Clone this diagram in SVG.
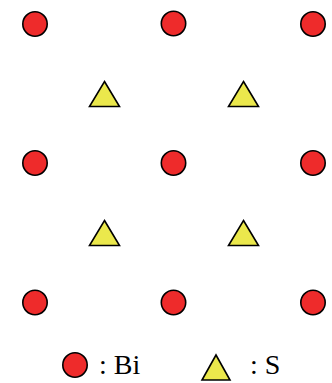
<svg xmlns="http://www.w3.org/2000/svg" width="332" height="383" viewBox="0 0 332 383">
<style>
.bi{fill:#ee2b2b;stroke:#000;stroke-width:1.6}
.s{fill:#ebe84c;stroke:#000;stroke-width:1.6;stroke-linejoin:miter}
</style>
<rect width="332" height="383" fill="#fff"/>
<g id="nodes">
<g id="bi1"><circle class="bi" cx="35" cy="24" r="12.2"/></g>
<g id="bi2"><circle class="bi" cx="173.5" cy="23.5" r="12.2"/></g>
<g id="bi3"><circle class="bi" cx="313" cy="24" r="12.2"/></g>
<g id="bi4"><circle class="bi" cx="35" cy="163" r="12.2"/></g>
<g id="bi5"><circle class="bi" cx="173.5" cy="163" r="12.2"/></g>
<g id="bi6"><circle class="bi" cx="313" cy="163" r="12.2"/></g>
<g id="bi7"><circle class="bi" cx="35" cy="302.5" r="12.2"/></g>
<g id="bi8"><circle class="bi" cx="173.5" cy="302.5" r="12.2"/></g>
<g id="bi9"><circle class="bi" cx="313" cy="302.5" r="12.2"/></g>
<g id="s1"><polygon class="s" points="104.5,81.5 119.5,106.5 89.5,106.5"/></g>
<g id="s2"><polygon class="s" points="243.5,81.5 258.5,106.5 228.5,106.5"/></g>
<g id="s3"><polygon class="s" points="104.5,220.5 119.5,245.5 89.5,245.5"/></g>
<g id="s4"><polygon class="s" points="243.5,220.5 258.5,245.5 228.5,245.5"/></g>
</g>
<g id="legend">
<g id="legend-bi"><circle class="bi" cx="75" cy="365" r="12.2"/><text x="99" y="374" font-family="'Liberation Serif', 'Times New Roman', serif" font-size="28" fill="#000">: Bi</text></g>
<g id="legend-s"><polygon class="s" points="216,355 230,380 202,380"/><text x="250" y="374" font-family="'Liberation Serif', 'Times New Roman', serif" font-size="28" fill="#000">: S</text></g>
</g>
<g id="connectors"></g>
</svg>
